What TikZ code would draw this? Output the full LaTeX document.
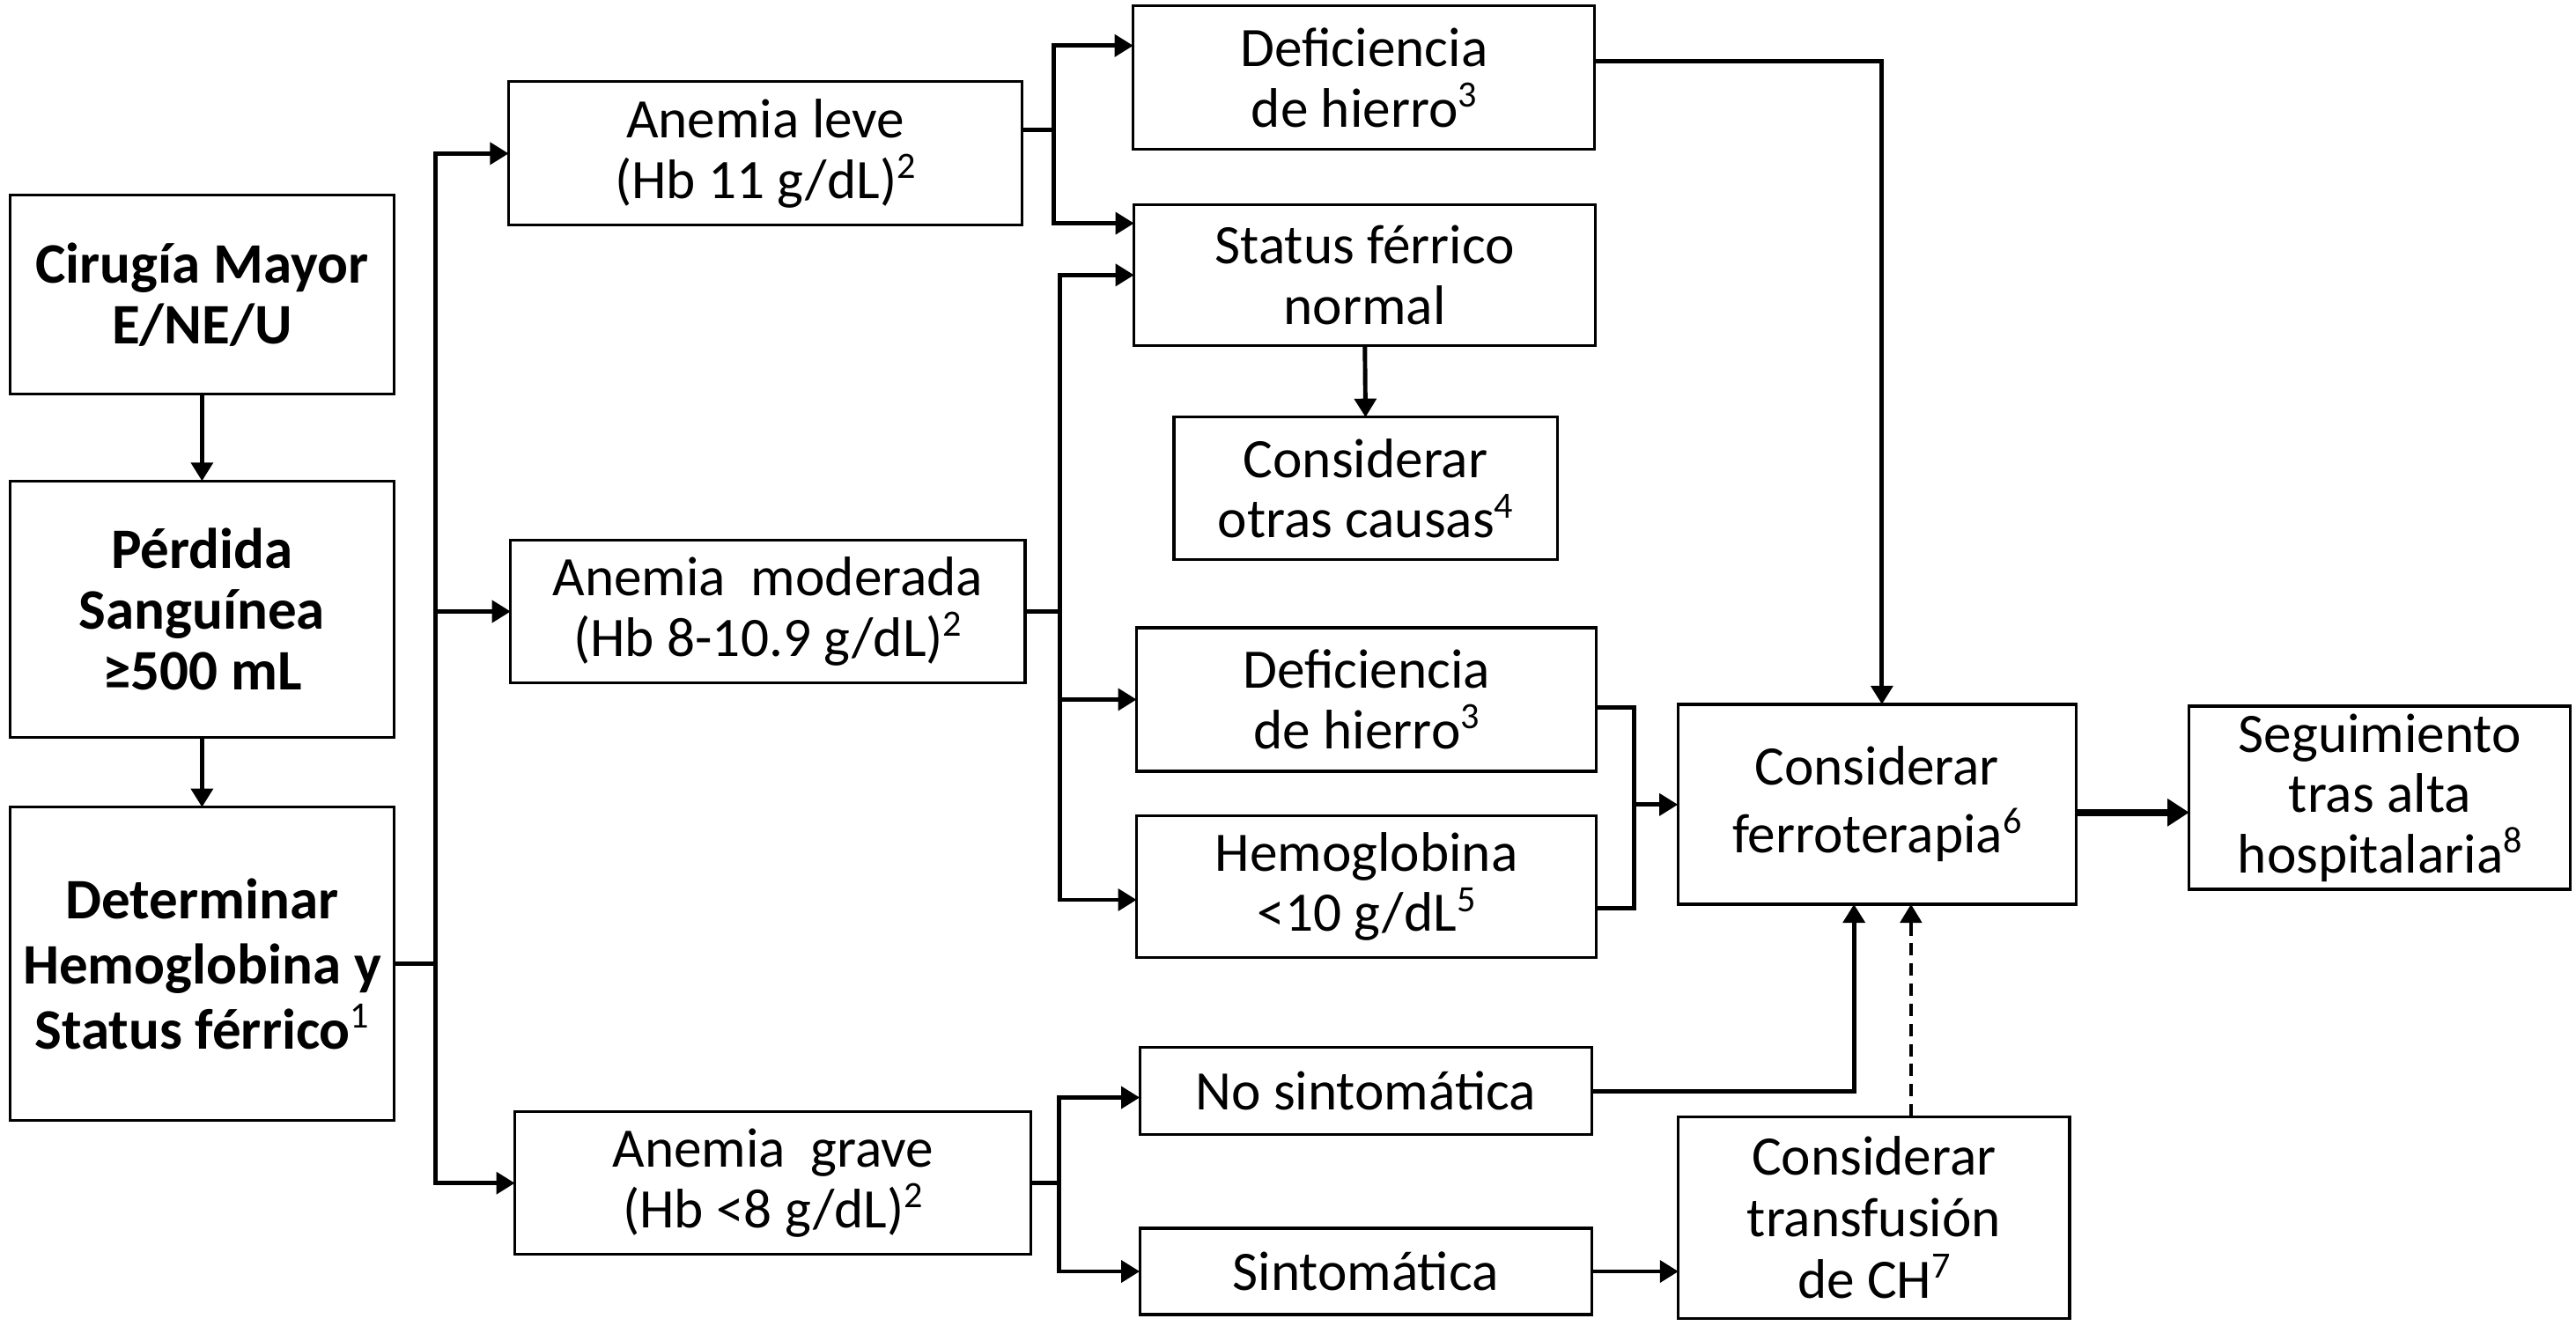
\documentclass[tikz,border=0pt]{standalone}
\usepackage{fontspec}
\setmainfont{Carlito}
\usetikzlibrary{arrows.meta,calc}
\newcommand\refnum[1]{\raisebox{0.36em}{\fontsize{12}{12}\selectfont\mdseries #1}}

\begin{document}
\begin{tikzpicture}[x=0.01865cm,y=-0.01865cm,
  box/.style={draw,line width=0.9pt,align=center,inner sep=2pt,outer sep=0pt,font=\fontsize{18}{19.5}\selectfont},
  bbox/.style={box,font=\fontsize{18.5}{19.5}\selectfont\bfseries},
  lin/.style={line width=1.4pt},
  arr/.style={lin,-{Triangle[length=6pt,width=7pt]}}]
  \path[use as bounding box] (0,0) rectangle (1568.4,807.5);

  \node[bbox,minimum width=4.36cm,minimum height=2.26cm] (cir) at (123,179.5) {Cirugía Mayor\\E/NE/U};
  \node[bbox,minimum width=4.36cm,minimum height=2.91cm] (perd) at (123,371) {Pérdida\\Sanguínea\\≥500 mL};
  \node[bbox,minimum width=4.36cm,minimum height=3.56cm,font=\fontsize{18.5}{21}\selectfont\bfseries] (det) at (123,587) {Determinar\\Hemoglobina y\\Status férrico\refnum{1}};

  \node[box,minimum width=5.83cm,minimum height=1.63cm] (leve) at (466,93.5) {Anemia leve\\(Hb 11 g/dL)\refnum{2}};
  \node[box,minimum width=5.84cm,minimum height=1.62cm] (mod) at (467.5,372.4) {Anemia\ \ moderada\\(Hb 8-10.9 g/dL)\refnum{2}};
  \node[box,minimum width=5.86cm,minimum height=1.62cm] (grave) at (470.6,720.5) {Anemia\ \ grave\\(Hb <8 g/dL)\refnum{2}};

  \node[box,minimum width=5.24cm,minimum height=1.63cm] (def1) at (830.5,47.3) {Deficiencia\\de hierro\refnum{3}};
  \node[box,minimum width=5.24cm,minimum height=1.60cm] (status) at (831,167.5) {Status férrico\\normal};
  \node[box,minimum width=4.35cm,minimum height=1.62cm] (otras) at (831.4,297.5) {Considerar\\otras causas\refnum{4}};
  \node[box,minimum width=5.22cm,minimum height=1.63cm] (def2) at (832,426) {Deficiencia\\de hierro\refnum{3}};
  \node[box,minimum width=5.22cm,minimum height=1.61cm] (hem) at (832,540) {Hemoglobina\\<10 g/dL\refnum{5}};
  \node[box,minimum width=5.13cm,minimum height=0.99cm] (nosin) at (831.5,664.4) {No sintomática};
  \node[box,minimum width=5.13cm,minimum height=0.98cm] (sin) at (831.5,774.3) {Sintomática};

  \node[box,minimum width=4.52cm,minimum height=2.27cm,font=\fontsize{18}{22}\selectfont] (ferro) at (1142.8,489.8) {Considerar\\ferroterapia\refnum{6}};
  \node[box,minimum width=4.33cm,minimum height=2.08cm] (seg) at (1449,485.8) {Seguimiento\\tras alta\\hospitalaria\refnum{8}};
  \node[box,minimum width=4.44cm,minimum height=2.29cm,font=\fontsize{18}{20}\selectfont] (transf) at (1141,741.4) {Considerar\\transfusión\\de CH\refnum{7}};

  \draw[arr] (cir.south) -- (perd.north);
  \draw[arr] (perd.south) -- (det.north);

  \coordinate (br) at ($(det.east)+(25,0)$);
  \draw[lin] (det.east) -- (br);
  \draw[arr] (br) |- (leve);
  \draw[arr] (br) |- (mod);
  \draw[arr] (br) |- (grave);

  \coordinate (bl) at ($(leve.east)+(19,-14.5)$);
  \draw[lin] ($(leve.east)+(0,-14.5)$) -- (bl);
  \draw[arr] (bl) |- ($(def1.west)+(0,-19.5)$);
  \draw[arr] (bl) |- ($(status.west)+(0,-31.5)$);

  \coordinate (bm) at ($(mod.east)+(21,0)$);
  \draw[lin] (mod.east) -- (bm);
  \draw[arr] (bm) |- (status);
  \draw[arr] (bm) |- (def2);
  \draw[arr] (bm) |- ($(hem.west)+(0,8)$);

  \coordinate (bg) at ($(grave.east)+(17,0)$);
  \draw[lin] (grave.east) -- (bg);
  \draw[arr] (bg) |- ($(nosin.west)+(0,4)$);
  \draw[arr] (bg) |- (sin);

  \draw[arr] (status.south) -- (otras.north);
  \draw[arr] ($(def1.east)+(0,-10)$) -| ($(ferro.north)+(3,0)$);

  \coordinate (bd) at (995,490);
  \draw[lin] ($(def2.east)+(0,5)$) -| (bd) |- ($(hem.east)+(0,13)$);
  \draw[arr] (bd) -- (bd -| ferro.west);

  \draw[arr,line width=2.3pt,-{Triangle[length=7pt,width=8.5pt]}] ($(ferro.east)+(0,5)$) -- ($(seg.west)+(0,9)$);

  \draw[arr] (nosin.east) -| ($(ferro.south)+(-14,0)$);
  \draw[arr] (sin.east) -- (sin.east -| transf.west);
  \draw[arr,line width=1pt,dash pattern=on 4pt off 2.5pt] ($(transf.north)+(22.5,0)$) -- ($(ferro.south)+(20.7,0)$);
\end{tikzpicture}
\end{document}
